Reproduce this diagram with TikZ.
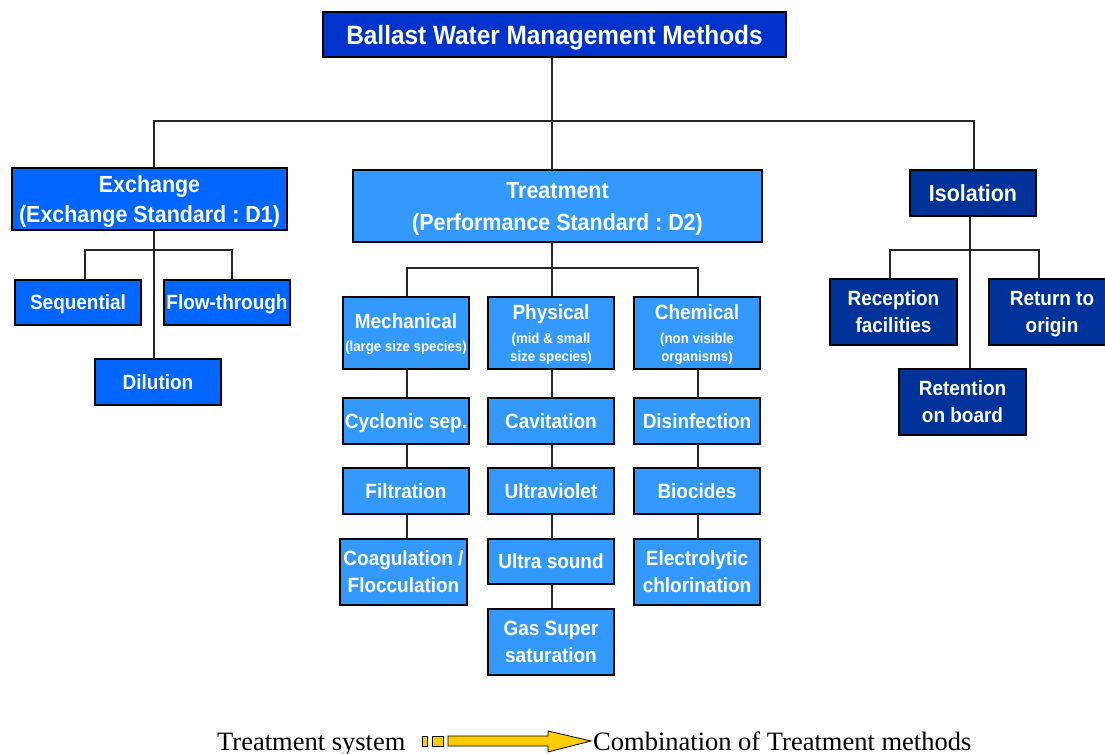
\documentclass[tikz,border=0pt]{standalone}
\usepackage{fontspec}
\setmainfont{Liberation Serif}
\newfontfamily\arialf[FakeStretch=0.92]{Liberation Sans}
\definecolor{cTop}{HTML}{0033CC}
\definecolor{cExch}{HTML}{0066FF}
\definecolor{cTreat}{HTML}{3399FF}
\definecolor{cIso}{HTML}{003399}
\definecolor{cArrow}{HTML}{FFCC00}
\tikzset{
  box/.style={draw=black, line width=1.4pt, text=white, align=center, inner sep=0pt, text depth=-6pt,
              font=\arialf\bfseries\frenchspacing\fontsize{20.6}{24}\selectfont},
  topbox/.style={box, fill=cTop, font=\arialf\bfseries\frenchspacing\fontsize{26.5}{30}\selectfont},
  exbox/.style={box, fill=cExch},
  trbox/.style={box, fill=cTreat},
  isbox/.style={box, fill=cIso},
  big/.style={font=\arialf\bfseries\frenchspacing\fontsize{23.3}{30}\selectfont},
  twoline/.style={font=\arialf\bfseries\frenchspacing\fontsize{20.6}{27}\selectfont},
  w126/.style={minimum width=126, minimum height=45},
  wire/.style={line width=1.3pt, draw=black!85},
  legend/.style={anchor=base west, inner sep=0pt, font=\rmfamily\fontsize{26.5}{30}\selectfont},
  blockarrow/.style={draw=black, line width=0.8pt, fill=cArrow}
}
\newcommand{\smalltxt}{\fontsize{14.4}{16}\selectfont}
\begin{document}
\begin{tikzpicture}[x=1pt,y=-1pt]
\useasboundingbox (0,0) rectangle (1105,754);
% top
\node[topbox, minimum width=463, minimum height=45] (title) at (554.5,34.5) {Ballast Water Management Methods};
% level 1
\node[exbox, big, minimum width=275, minimum height=62] (exch) at (149.5,199) {Exchange\\(Exchange Standard : D1)};
\node[trbox, font=\arialf\bfseries\frenchspacing\fontsize{23.3}{32}\selectfont, minimum width=409, minimum height=72] (treat) at (557.5,206) {Treatment\\(Performance Standard : D2)};
\node[isbox, big, minimum width=126, minimum height=46] (iso) at (973,193) {Isolation};
% exchange children
\node[exbox, w126] (seq) at (78,302.5) {Sequential};
\node[exbox, w126] (flow) at (227,302.5) {Flow-through};
\node[exbox, w126, minimum height=46] (dil) at (158,382) {Dilution};
% treatment children
\node[trbox, minimum width=126, minimum height=72] (mech) at (406,333) {Mechanical\\[-1pt]{\smalltxt(large size species)}};
\node[trbox, minimum width=126, minimum height=72] (phys) at (551,333) {Physical\\[0pt]{\smalltxt(mid \& small}\\[-6pt]{\smalltxt size species)}};
\node[trbox, minimum width=126, minimum height=72] (chem) at (697,333) {Chemical\\[0pt]{\smalltxt(non visible}\\[-6pt]{\smalltxt organisms)}};
\node[trbox, w126, minimum height=46] (cyc) at (406,421) {Cyclonic sep.};
\node[trbox, w126, minimum height=46] (cav) at (551,421) {Cavitation};
\node[trbox, w126, minimum height=46] (dis) at (697,421) {Disinfection};
\node[trbox, w126, minimum height=46] (fil) at (406,491) {Filtration};
\node[trbox, w126, minimum height=46] (uv) at (551,491) {Ultraviolet};
\node[trbox, w126, minimum height=46] (bio) at (697,491) {Biocides};
\node[trbox, twoline, minimum width=127, minimum height=66] (coag) at (403.5,572) {Coagulation /\\Flocculation};
\node[trbox, w126] (us) at (551,561.5) {Ultra sound};
\node[trbox, twoline, minimum width=126, minimum height=66] (elec) at (697,572) {Electrolytic\\chlorination};
\node[trbox, twoline, minimum width=126, minimum height=66] (gas) at (551,642) {Gas Super\\saturation};
% isolation children
\node[isbox, twoline, minimum width=127, minimum height=66] (rec) at (893.5,312) {Reception\\facilities};
\node[isbox, twoline, minimum width=126, minimum height=66] (ret) at (1052,312) {Return to\\origin};
\node[isbox, twoline, minimum width=127, minimum height=66] (retn) at (962.5,402) {Retention\\on board};
% helper coordinates
\coordinate (xa) at (154,0);
\coordinate (xb) at (552,0);
\coordinate (xc) at (974,0);
\coordinate (bus) at (552,121);
\coordinate (eb) at (154,250);
\coordinate (e1) at (85,0);
\coordinate (e2) at (232,0);
\coordinate (tb) at (552,268);
\coordinate (m) at (407,0);
\coordinate (p) at (552,0);
\coordinate (c) at (698,0);
\coordinate (ib) at (970,250);
\coordinate (i1) at (890,0);
\coordinate (i2) at (1039,0);
\coordinate (xi) at (970,0);
% connectors
\draw[wire] (title.south -| xb) -- (treat.north -| xb);
\draw[wire] (exch.north -| xa) |- (bus) -| (iso.north -| xc);
\draw[wire] (exch.south -| xa) -- (dil.north -| xa);
\draw[wire] (seq.north -| e1) |- (eb) -| (flow.north -| e2);
\draw[wire] (treat.south -| p) -- (phys.north -| p);
\draw[wire] (mech.north -| m) |- (tb) -| (chem.north -| c);
\draw[wire] (mech.south -| m) -- (cyc.north -| m);
\draw[wire] (cyc.south -| m) -- (fil.north -| m);
\draw[wire] (fil.south -| m) -- (coag.north -| m);
\draw[wire] (phys.south -| p) -- (cav.north -| p);
\draw[wire] (cav.south -| p) -- (uv.north -| p);
\draw[wire] (uv.south -| p) -- (us.north -| p);
\draw[wire] (us.south -| p) -- (gas.north -| p);
\draw[wire] (chem.south -| c) -- (dis.north -| c);
\draw[wire] (dis.south -| c) -- (bio.north -| c);
\draw[wire] (bio.south -| c) -- (elec.north -| c);
\draw[wire] (iso.south -| xi) -- (retn.north -| xi);
\draw[wire] (rec.north -| i1) |- (ib) -| (ret.north -| i2);
% legend
\node[legend] (ts) at (217,750) {Treatment system};
\node[legend] (cb) at (593,750) {Combination of Treatment methods};
\draw[blockarrow] (422,736) rectangle (427,746);
\draw[blockarrow] (432,736) rectangle (443,746);
\draw[blockarrow] (448,736) -- (548,736) -- (548,731) -- (591,741) -- (548,752) -- (548,746) -- (448,746) -- cycle;
\end{tikzpicture}
\end{document}
